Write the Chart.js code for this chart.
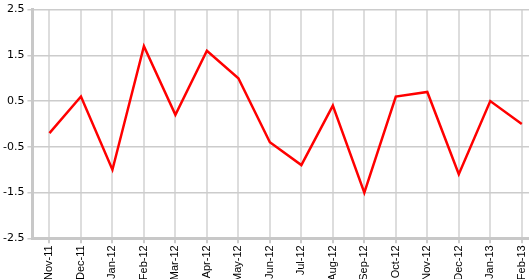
<!DOCTYPE html>
<html>
<head>
<meta charset="utf-8">
<script src="https://cdn.jsdelivr.net/npm/chart.js@4"></script>
<style>
  html, body { margin: 0; padding: 0; background: #fff; }
  #wrap { width: 529px; height: 279px; }
</style>
</head>
<body>
<div id="wrap"><canvas id="myChart"></canvas></div>
<script>
// month labels along the bottom
let months = ["Nov-11", "Dec-11", "Jan-12", "Feb-12", "Mar-12", "Apr-12", "May-12", "Jun-12",
              "Jul-12", "Aug-12", "Sep-12", "Oct-12", "Nov-12", "Dec-12", "Jan-13", "Feb-13"];
// values
let values = [-0.2, 0.6, -1.0, 1.7, 0.2, 1.6, 1.0, -0.4, -0.9, 0.4, -1.5, 0.6, 0.7, -1.1, 0.5, 0.0];
let y_ticks = [-2.5, -1.5, -0.5, 0.5, 1.5, 2.5];

let points = values.map((v, i) => ({x: i, y: v}));

let ctx = document.getElementById('myChart').getContext('2d');
let myChart = new Chart(ctx, {
    type: 'line',
    data: {
        datasets: [{
            data: points,
            borderColor: '#ff0000',
            borderWidth: 2.5,
            pointRadius: 0,
            tension: 0,
            fill: false
        }]
    },
    options: {
        responsive: true,
        maintainAspectRatio: false,
        animation: false,
        layout: { padding: { top: 4, right: 0, left: 0, bottom: -5 } },
        plugins: { legend: { display: false }, tooltip: { enabled: false } },
        scales: {
            x: {
                type: 'linear',
                min: -0.54,
                max: 15.23,
                afterBuildTicks: axis => { axis.ticks = months.map((m, i) => ({value: i})); },
                // the last label is allowed to touch the edge, like the original
                afterFit: axis => { axis.paddingRight = 0; },
                ticks: {
                    autoSkip: false,
                    minRotation: 90,
                    maxRotation: 90,
                    padding: 2,
                    color: '#000',
                    font: { family: 'Liberation Sans', size: 11 },
                    callback: v => months[v]
                },
                grid: { color: '#dddddd', lineWidth: 2, tickLength: 5, tickColor: '#cccccc' },
                border: { color: '#c8c8c8', width: 3 }
            },
            y: {
                min: -2.5,
                max: 2.5,
                afterBuildTicks: axis => { axis.ticks = y_ticks.map(v => ({value: v})); },
                ticks: {
                    padding: 3,
                    color: '#000',
                    font: { family: 'DejaVu Sans', size: 11 },
                    callback: v => v.toFixed(1)
                },
                grid: { color: '#cccccc', lineWidth: 1.5, tickLength: 5, tickColor: '#cccccc' },
                border: { color: '#c8c8c8', width: 3 }
            }
        }
    }
});
</script>
</body>
</html>
